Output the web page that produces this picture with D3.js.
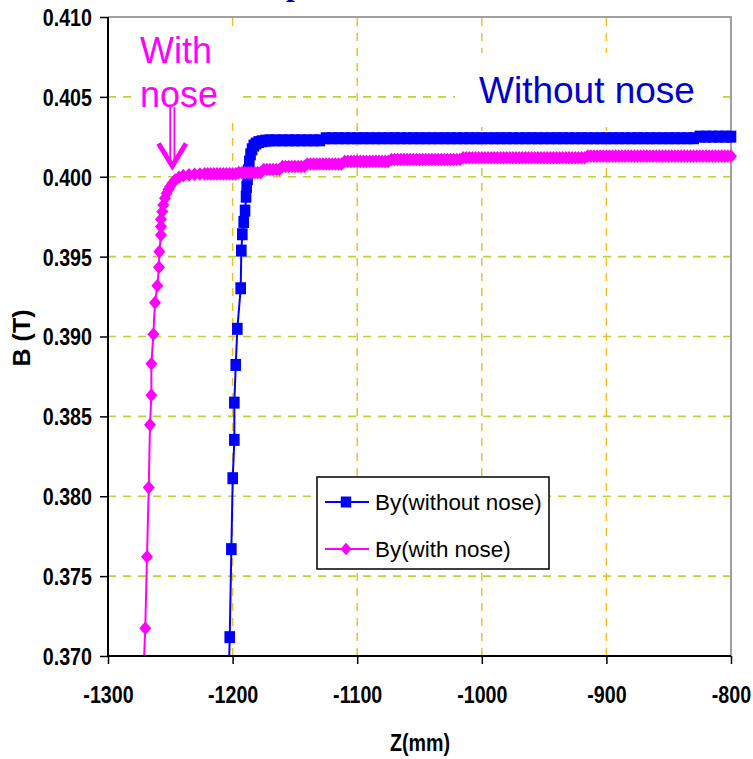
<!DOCTYPE html>
<html>
<head>
<meta charset="utf-8">
<script src="https://cdn.jsdelivr.net/npm/d3@7/dist/d3.min.js"></script>
<style>
  body { margin: 0; background: #fff; }
  svg { display: block; }
</style>
</head>
<body>
<svg id="chart" width="753" height="759"></svg>
<script>
// Axis ticks
const xTicks = [-1300, -1200, -1100, -1000, -900, -800];
const yTicks = [0.370, 0.375, 0.380, 0.385, 0.390, 0.395, 0.400, 0.405, 0.410];
const xGridTicks = [-1200, -1100, -1000, -900];
const yGridTicks = [0.375, 0.380, 0.385, 0.390, 0.395, 0.400, 0.405];

const seriesNames = ["By(without nose)", "By(with nose)"];

// By along Z, pole without nose (mm, T)
const zWithout = [
  -1203.0, -1202.3, -1201.0, -1199.9, -1198.6, -1198.6, -1197.5, -1196.2, -1193.5, -1193.0,
  -1192.2, -1191.1, -1190.0, -1189.2, -1188.7, -1188.0, -1187.4, -1186.6, -1185.6, -1184.4,
  -1183.0, -1181.2, -1179.0, -1176.4, -1173.5, -1170.0,
  -1165, -1160, -1155, -1150, -1145, -1140, -1135, -1130,
  -1125, -1120, -1115, -1110, -1105, -1100, -1095, -1090, -1085, -1080,
  -1075, -1070, -1065, -1060, -1055, -1050, -1045, -1040, -1035, -1030,
  -1025, -1020, -1015, -1010, -1005, -1000, -995, -990, -985, -980,
  -975, -970, -965, -960, -955, -950, -945, -940, -935, -930,
  -925, -920, -915, -910, -905, -900, -895, -890, -885, -880,
  -875, -870, -865, -860, -855, -850, -845, -840, -835, -830,
  -825, -820, -815, -810, -805, -800
];
const bWithout = [
  0.3690, 0.37118, 0.37669, 0.38113, 0.38353, 0.38586, 0.38822, 0.39048, 0.39302, 0.39538,
  0.39640, 0.39717, 0.39788, 0.39875, 0.39937, 0.39985, 0.40040, 0.40095, 0.40140, 0.40172,
  0.40195, 0.40208, 0.40217, 0.40222, 0.40226, 0.40228,
  0.40228, 0.40228, 0.40228, 0.40228, 0.40228, 0.40228, 0.40228, 0.40228,
  0.40241, 0.40241, 0.40241, 0.40241, 0.40241, 0.40241, 0.40241, 0.40241, 0.40241, 0.40241,
  0.40241, 0.40241, 0.40241, 0.40241, 0.40241, 0.40241, 0.40241, 0.40241, 0.40241, 0.40241,
  0.40241, 0.40241, 0.40241, 0.40241, 0.40241, 0.40241, 0.40241, 0.40241, 0.40241, 0.40241,
  0.40241, 0.40241, 0.40241, 0.40241, 0.40241, 0.40241, 0.40241, 0.40241, 0.40241, 0.40241,
  0.40241, 0.40241, 0.40241, 0.40241, 0.40241, 0.40241, 0.40241, 0.40241, 0.40241, 0.40241,
  0.40241, 0.40241, 0.40241, 0.40241, 0.40241, 0.40241, 0.40241, 0.40241, 0.40241, 0.40241,
  0.40251, 0.40251, 0.40251, 0.40251, 0.40251, 0.40251
];

// By along Z, pole with nose (mm, T)
const zWith = [
  -1271.5, -1270.1, -1268.7, -1267.3, -1266.3, -1265.2, -1265.2, -1263.6, -1262.3, -1260.4,
  -1259.1, -1258.8, -1257.5, -1257.5, -1257.5, -1256.4, -1255.6, -1254.3, -1252.9, -1251.5,
  -1250.2, -1248.3, -1246.2, -1243.0, -1239.6, -1235.0, -1230.5, -1226.2,
  -1222.5, -1220, -1217.5, -1215, -1212.5, -1210, -1207.5, -1205, -1202.5, -1200, -1197.5,
  -1195, -1192.5, -1190, -1187.5, -1185, -1182.5, -1180, -1177.5,
  -1175, -1172.5, -1170, -1167.5, -1165, -1162.5,
  -1160, -1157.5, -1155, -1152.5, -1150, -1147.5, -1145, -1142.5,
  -1140, -1137.5, -1135, -1132.5, -1130, -1127.5, -1125, -1122.5, -1120, -1117.5, -1115, -1112.5,
  -1110, -1107.5, -1105, -1102.5, -1100, -1097.5, -1095, -1092.5, -1090, -1087.5, -1085, -1082.5, -1080, -1077.5, -1075,
  -1072.5, -1070, -1067.5, -1065, -1062.5, -1060, -1057.5, -1055, -1052.5, -1050,
  -1047.5, -1045, -1042.5, -1040, -1037.5, -1035, -1032.5, -1030, -1027.5, -1025,
  -1022.5, -1020, -1017.5,
  -1015, -1012.5, -1010, -1007.5, -1005, -1002.5, -1000, -997.5, -995, -992.5,
  -990, -987.5, -985, -982.5, -980, -977.5, -975, -972.5, -970, -967.5,
  -965, -962.5, -960, -957.5, -955, -952.5, -950, -947.5, -945, -942.5,
  -940, -937.5, -935, -932.5, -930, -927.5, -925, -922.5, -920, -917.5,
  -915, -912.5, -910, -907.5, -905, -902.5, -900, -897.5, -895, -892.5,
  -890, -887.5, -885, -882.5, -880, -877.5, -875, -872.5, -870, -867.5,
  -865, -862.5, -860, -857.5, -855, -852.5, -850, -847.5, -845, -842.5,
  -840, -837.5, -835, -832.5, -830, -827.5, -825, -822.5, -820, -817.5,
  -815, -812.5, -810, -807.5, -805, -802.5, -800
];
const bWith = [
  0.3690, 0.37174, 0.37621, 0.38054, 0.38447, 0.38633, 0.38829, 0.39014, 0.39212, 0.39318,
  0.39434, 0.39531, 0.39636, 0.39688, 0.39734, 0.39782, 0.39823, 0.39865, 0.39897, 0.39920,
  0.39938, 0.39960, 0.39980, 0.39997, 0.40007, 0.40012, 0.40015, 0.40017,
  0.40018, 0.40018, 0.40018, 0.40018, 0.40018, 0.40018, 0.40018, 0.40018, 0.40018, 0.40018, 0.40018,
  0.40026, 0.40026, 0.40026, 0.40026, 0.40026, 0.40026, 0.40026, 0.40026,
  0.40045, 0.40045, 0.40045, 0.40045, 0.40045, 0.40045,
  0.40064, 0.40064, 0.40064, 0.40064, 0.40064, 0.40064, 0.40064, 0.40064,
  0.40080, 0.40080, 0.40080, 0.40080, 0.40080, 0.40080, 0.40080, 0.40080, 0.40080, 0.40080, 0.40080, 0.40080,
  0.40096, 0.40096, 0.40096, 0.40096, 0.40096, 0.40096, 0.40096, 0.40096, 0.40096, 0.40096, 0.40096, 0.40096, 0.40096, 0.40096, 0.40096,
  0.40108, 0.40108, 0.40108, 0.40108, 0.40108, 0.40108, 0.40108, 0.40108, 0.40108, 0.40108,
  0.40108, 0.40108, 0.40108, 0.40108, 0.40108, 0.40108, 0.40108, 0.40108, 0.40108, 0.40108,
  0.40108, 0.40108, 0.40108,
  0.40119, 0.40119, 0.40119, 0.40119, 0.40119, 0.40119, 0.40119, 0.40119, 0.40119, 0.40119,
  0.40119, 0.40119, 0.40119, 0.40119, 0.40119, 0.40119, 0.40119, 0.40119, 0.40119, 0.40119,
  0.40119, 0.40119, 0.40119, 0.40119, 0.40119, 0.40119, 0.40119, 0.40119, 0.40119, 0.40119,
  0.40119, 0.40119, 0.40119, 0.40119, 0.40119, 0.40119, 0.40119, 0.40119, 0.40119, 0.40119,
  0.40129, 0.40129, 0.40129, 0.40129, 0.40129, 0.40129, 0.40129, 0.40129, 0.40129, 0.40129,
  0.40129, 0.40129, 0.40129, 0.40129, 0.40129, 0.40129, 0.40129, 0.40129, 0.40129, 0.40129,
  0.40129, 0.40129, 0.40129, 0.40129, 0.40129, 0.40129, 0.40129, 0.40129, 0.40129, 0.40129,
  0.40129, 0.40129, 0.40129, 0.40129, 0.40129, 0.40129, 0.40129, 0.40129, 0.40129, 0.40129,
  0.40129, 0.40129, 0.40129, 0.40129, 0.40129, 0.40129, 0.40129
];

const BLUE = "#0000ff";
const MAGENTA = "#ff00ff";
const SANS = "'Liberation Sans', Arial, sans-serif";
const NARROW = 0.82; // horizontal squeeze of the bold axis text

const svg = d3.select("#chart");
const M = { left: 108, right: 731, top: 17, bottom: 656 };

const x = d3.scaleLinear().domain([-1300, -800]).range([M.left, M.right]);
const y = d3.scaleLinear().domain([0.370, 0.410]).range([M.bottom, M.top]);

// Title fragment peeking above the plot frame
svg.append("text")
  .attr("x", 286).attr("y", -5)
  .attr("font-family", "'Liberation Serif', 'Times New Roman', serif")
  .attr("font-weight", "bold").attr("font-size", 32)
  .attr("fill", "#00009c")
  .text("p");

// Gridlines
const grid = svg.append("g");
grid.selectAll("line.h").data(yGridTicks).join("line")
  .attr("x1", M.left).attr("x2", M.right)
  .attr("y1", d => y(d)).attr("y2", d => y(d))
  .attr("stroke", "#b6d43c").attr("stroke-width", 1.6)
  .attr("stroke-dasharray", "8,7");
grid.selectAll("line.v").data(xGridTicks).join("line")
  .attr("x1", d => x(d)).attr("x2", d => x(d))
  .attr("y1", M.bottom).attr("y2", M.top)
  .attr("stroke", "#f2c01e").attr("stroke-width", 1.5)
  .attr("stroke-dasharray", "8,7");

// White boxes behind the annotations
svg.append("rect").attr("x", 133).attr("y", 28).attr("width", 103).attr("height", 90).attr("fill", "#fff");
svg.append("rect").attr("x", 455).attr("y", 53).attr("width", 268).attr("height", 74).attr("fill", "#fff");

// Plot frame: grey top/right
svg.append("path")
  .attr("d", `M${M.left},${M.top}H${M.right}V${M.bottom}`)
  .attr("fill", "none").attr("stroke", "#a0a0a0").attr("stroke-width", 2);

// Series
svg.append("defs").append("clipPath").attr("id", "plotClip")
  .append("rect").attr("x", M.left - 10).attr("y", M.top)
  .attr("width", M.right - M.left + 20).attr("height", M.bottom - M.top);

const plot = svg.append("g").attr("clip-path", "url(#plotClip)");
const line = d3.line().x(d => x(d[0])).y(d => y(d[1]));
const diamond = "M0,-6.8L6,0L0,6.8L-6,0Z";
const SQ_W = 10.6, SQ_H = 12;

const dataWithout = d3.zip(zWithout, bWithout);
const dataWith = d3.zip(zWith, bWith);

plot.append("path").datum(dataWithout).attr("d", line)
  .attr("fill", "none").attr("stroke", BLUE).attr("stroke-width", 2);
plot.append("g").selectAll("rect").data(dataWithout).join("rect")
  .attr("x", d => x(d[0]) - SQ_W / 2).attr("y", d => y(d[1]) - SQ_H / 2)
  .attr("width", SQ_W).attr("height", SQ_H).attr("fill", BLUE);

plot.append("path").datum(dataWith).attr("d", line)
  .attr("fill", "none").attr("stroke", MAGENTA).attr("stroke-width", 2);
plot.append("g").selectAll("path").data(dataWith).join("path")
  .attr("d", diamond)
  .attr("transform", d => `translate(${x(d[0])},${y(d[1])})`)
  .attr("fill", MAGENTA);

// Axes
const yAxis = svg.append("g").attr("transform", `translate(${M.left},0)`)
  .call(d3.axisLeft(y).tickValues(yTicks).tickFormat(d3.format(".3f")).tickSize(8));
const xAxis = svg.append("g").attr("transform", `translate(0,${M.bottom})`)
  .call(d3.axisBottom(x).tickValues(xTicks).tickFormat(d => String(d)).tickSize(8));

[yAxis, xAxis].forEach(a => {
  a.select(".domain").remove();
  a.selectAll(".tick line").attr("stroke", "#000").attr("stroke-width", 1.5);
  a.selectAll(".tick text")
    .attr("font-family", SANS).attr("font-weight", "bold")
    .attr("font-size", 24).attr("fill", "#000");
});
yAxis.selectAll(".tick text")
  .attr("x", -16 / NARROW).attr("dy", "0.35em")
  .attr("transform", `scale(${NARROW},1)`);
xAxis.selectAll(".tick text")
  .attr("y", 47.5).attr("dy", 0)
  .attr("transform", `scale(${NARROW},1)`);

svg.append("path")
  .attr("d", `M${M.left},${M.top}V${M.bottom}H${M.right}`)
  .attr("fill", "none").attr("stroke", "#000").attr("stroke-width", 2);

// Axis titles
svg.append("g").attr("transform", `translate(420,751) scale(${NARROW},1)`)
  .append("text").attr("text-anchor", "middle")
  .attr("font-family", SANS).attr("font-weight", "bold").attr("font-size", 24)
  .text("Z(mm)");
svg.append("g").attr("transform", "translate(22,338) rotate(-90)")
  .append("text").attr("text-anchor", "middle").attr("dy", "0.35em")
  .attr("font-family", SANS).attr("font-weight", "bold").attr("font-size", 24)
  .attr("textLength", 57).attr("lengthAdjust", "spacingAndGlyphs")
  .text("B (T)");

// Annotations
const noteWith = svg.append("text")
  .attr("font-family", SANS).attr("font-size", 36).attr("fill", MAGENTA);
noteWith.append("tspan").attr("x", 140).attr("y", 63).text("With");
noteWith.append("tspan").attr("x", 140).attr("y", 106.5).text("nose");

svg.append("text")
  .attr("x", 479).attr("y", 103)
  .attr("font-family", SANS).attr("font-size", 37).attr("fill", "#0000cc")
  .text("Without nose");

// Arrow pointing at the knee of the nose curve
const arrow = svg.append("g").attr("stroke", MAGENTA).attr("fill", "none");
arrow.append("line").attr("x1", 170.2).attr("x2", 170.2).attr("y1", 107).attr("y2", 162).attr("stroke-width", 1.8);
arrow.append("line").attr("x1", 174.4).attr("x2", 174.4).attr("y1", 107).attr("y2", 162).attr("stroke-width", 1.8);
arrow.append("polyline").attr("points", "158.5,143.5 172.3,166 186,143.5")
  .attr("stroke-width", 5).attr("stroke-linejoin", "miter");

// Legend
const legend = svg.append("g");
legend.append("rect").attr("x", 317).attr("y", 477).attr("width", 232).attr("height", 92)
  .attr("fill", "#fff").attr("stroke", "#000").attr("stroke-width", 1.5);
const legendRows = [
  { name: seriesNames[0], color: BLUE, y: 502, shape: "square" },
  { name: seriesNames[1], color: MAGENTA, y: 549, shape: "diamond" }
];
legendRows.forEach(r => {
  legend.append("line").attr("x1", 325).attr("x2", 369).attr("y1", r.y).attr("y2", r.y)
    .attr("stroke", r.color).attr("stroke-width", 2);
  if (r.shape === "square") {
    legend.append("rect").attr("x", 346 - 5.2).attr("y", r.y - 5.5)
      .attr("width", 10.4).attr("height", 11).attr("fill", r.color);
  } else {
    legend.append("path").attr("d", "M0,-6.2L5.6,0L0,6.2L-5.6,0Z")
      .attr("transform", `translate(346,${r.y})`).attr("fill", r.color);
  }
  legend.append("text").attr("x", 375).attr("y", r.y).attr("dy", "0.36em")
    .attr("font-family", SANS).attr("font-size", 22.4).attr("fill", "#000")
    .text(r.name);
});
</script>
</body>
</html>
